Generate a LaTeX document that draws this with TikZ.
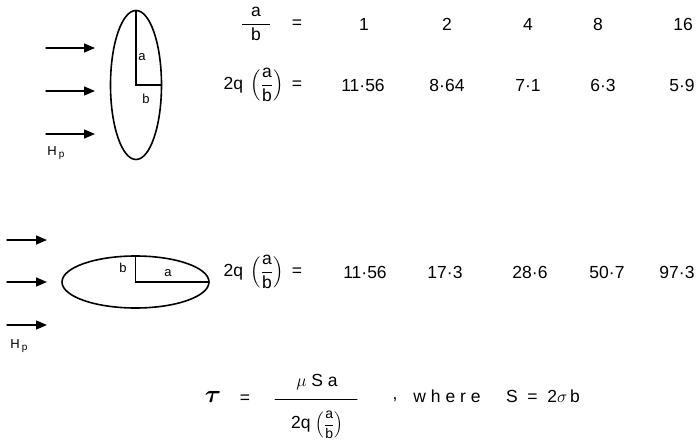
\documentclass[tikz,border=0pt]{standalone}
\usepackage{amsmath}
\usepackage{bm}
\usepackage{fontspec}
\setmainfont{Liberation Sans}
\usetikzlibrary{arrows.meta}
\tikzset{
  outline/.style={line width=1.6pt},
  field/.style={line width=1.5pt, -{Triangle[length=11pt,width=9pt]}},
  lbl/.style={font=\fontsize{13}{15}\selectfont},
  val/.style={font=\fontsize{17.5}{20}\selectfont}
}
\newcommand{\qab}{\text{2q}\;\left(\dfrac{\text{a}}{\text{b}}\right)}
\newcommand{\hpfield}{H\,\raisebox{-2.5pt}{\fontsize{10}{12}\selectfont p}}

\begin{document}
\begin{tikzpicture}[x=1pt, y=-1pt, line cap=round, font=\fontsize{17.5}{20}\selectfont]
\useasboundingbox (0,0) rectangle (699,447);

% upright ellipse, field from the left
\coordinate (c1) at (136,85);
\coordinate (a1) at (136,10.5);
\coordinate (b1) at (161.5,85);
\draw[outline] (c1) ellipse (25.5pt and 74.5pt);
\draw[line width=1.1pt] (a1) -- (c1) -- (b1);
\node[lbl] (la1) at (142,57) {a};
\node[lbl] (lb1) at (146,99) {b};
\foreach \y [count=\i] in {48,91,134} {
  \coordinate (s1\i) at (46,\y);
  \coordinate (e1\i) at (95,\y);
  \draw[field] (s1\i) -- (e1\i);
}
\node[lbl] (hp1) at (56,153) {\hpfield};

% ratio row
\node[val] (ratio) at (256,24) {$\dfrac{\makebox[28pt]{a}}{\makebox[28pt]{b}}$};
\node[val] (eq0) at (297,24) {=};
\foreach \v/\x [count=\i] in {1/364, 2/447, 4/528, 8/598, 16/683}
  \node[val] (r\i) at (\x,24) {\v};

% upright values
\node[val, anchor=east] (q1) at (287,85) {$\qab$};
\node[val] (eq1) at (297,85) {=};
\foreach \v/\x [count=\i] in {11·56/363, 8·64/447, 7·1/528, 6·3/603, 5·9/682}
  \node[val] (u\i) at (\x,85) {\v};

% flat ellipse, field from the left
\coordinate (c2) at (135.5,282);
\coordinate (b2) at (135.5,256);
\coordinate (a2) at (209,282);
\draw[outline] (c2) ellipse (73.5pt and 26pt);
\draw[line width=1.1pt] (b2) -- (c2) -- (a2);
\node[lbl] (lb2) at (123,268) {b};
\node[lbl] (la2) at (168,273) {a};
\foreach \y [count=\i] in {240,282,325} {
  \coordinate (s2\i) at (7,\y);
  \coordinate (e2\i) at (47,\y);
  \draw[field] (s2\i) -- (e2\i);
}
\node[lbl] (hp2) at (19,346) {\hpfield};

% flat values
\node[val, anchor=east] (q2) at (287,272) {$\qab$};
\node[val] (eq2) at (297,272) {=};
\foreach \v/\x [count=\i] in {11·56/365, 17·3/445, 28·6/530, 50·7/607, 97·3/677}
  \node[val] (f\i) at (\x,272) {\v};

% stress formula
\node (tau) at (213,397) {\fontsize{36}{38}\selectfont$\bm{\tau}$};
\node[val] (eq3) at (245,399) {=};
\node[val] (num) at (317,382) {$\mu\;\text{S}\;\text{a}$};
\coordinate (barl) at (275,399);
\coordinate (barr) at (357,399);
\draw[line width=1pt] (barl) -- (barr);
\node[val] (den) at (317,425) {2q\;\fontsize{14}{16}\selectfont$\left(\dfrac{\text{a}}{\text{b}}\right)$};
\node[val] (comma) at (395,400) {,};
\node[val] (where) at (447,396) {w h e r e};
\node[val] (sdef) at (543,396) {S\; = \;2$\sigma$\,b};
\end{tikzpicture}
\end{document}
